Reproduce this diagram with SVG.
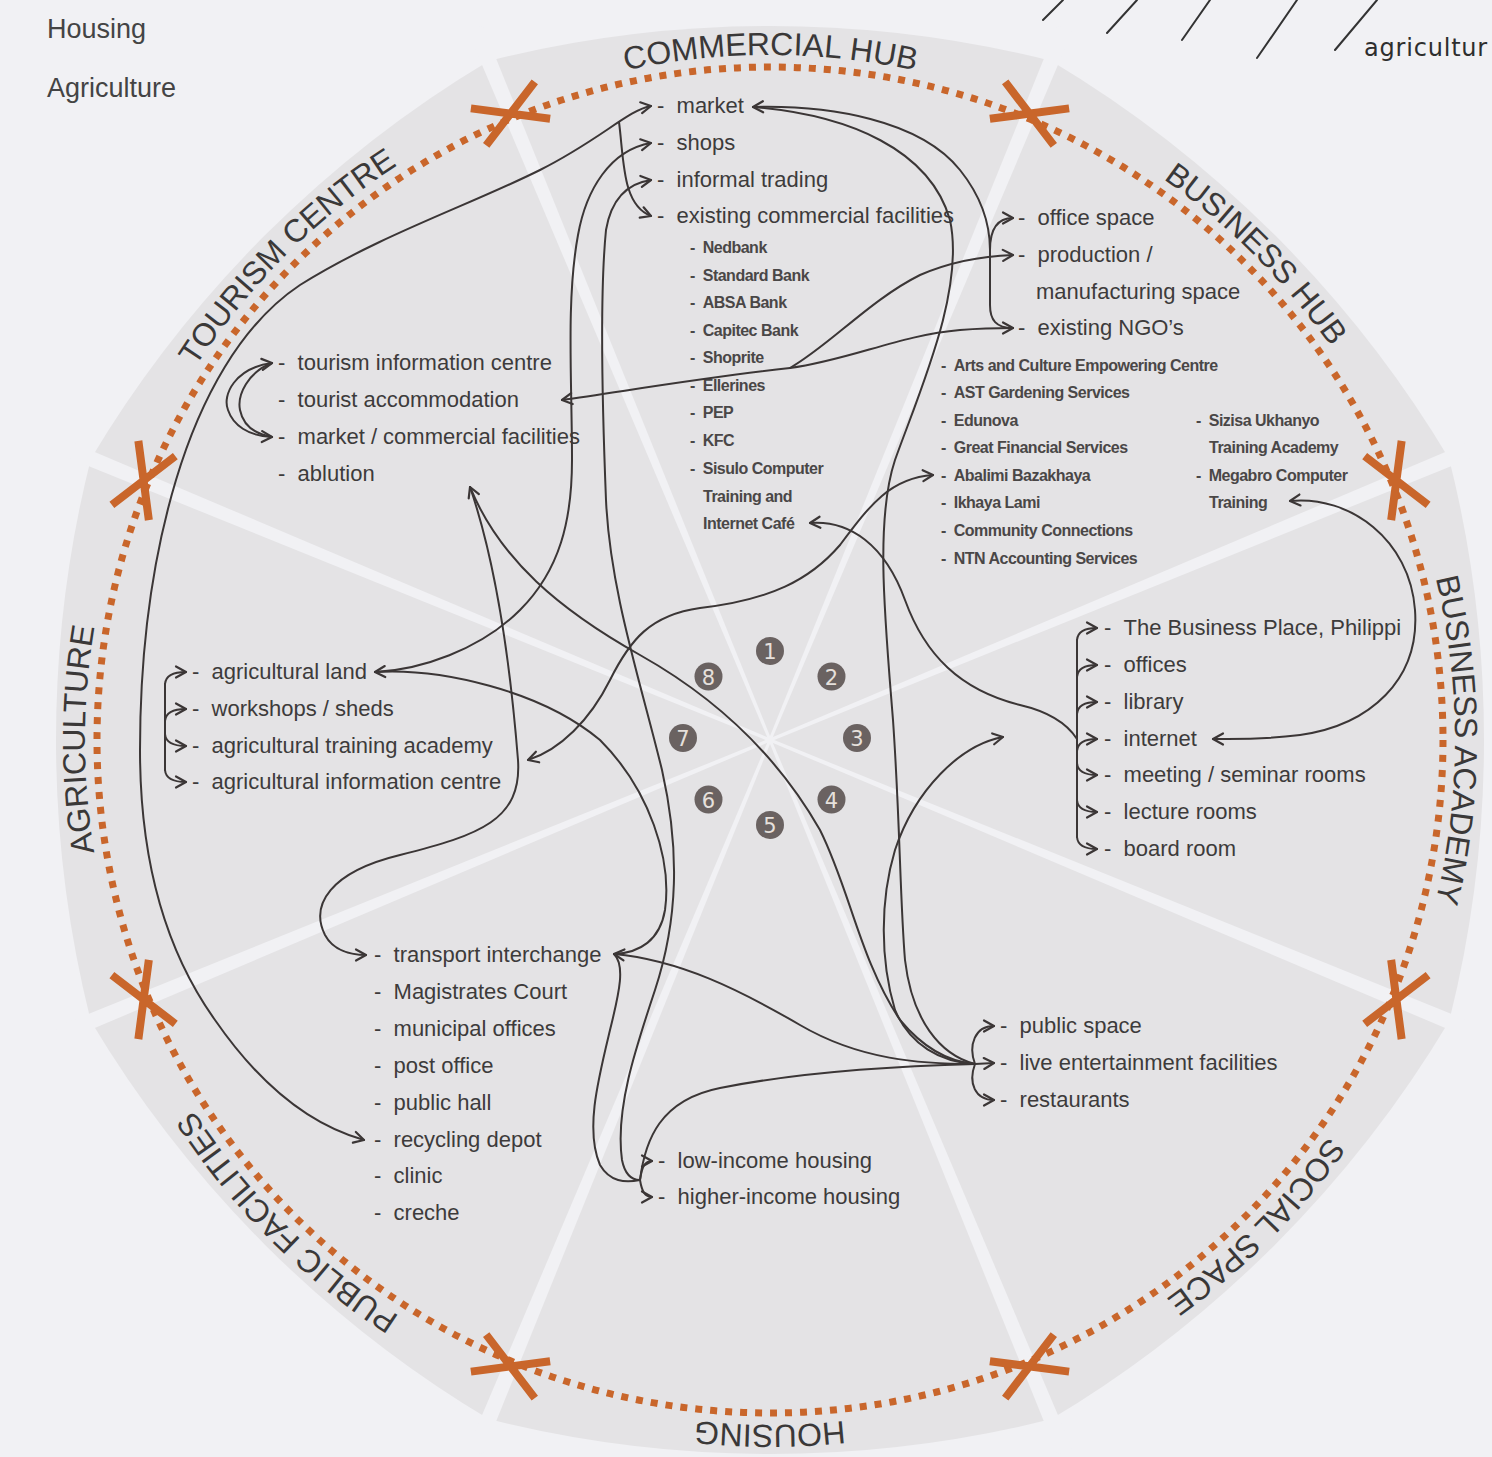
<svg xmlns="http://www.w3.org/2000/svg" xmlns:xlink="http://www.w3.org/1999/xlink" width="1492" height="1457" viewBox="0 0 1492 1457">
<style>
.m{font-family:"Liberation Sans",Arial,sans-serif;font-size:22px;fill:#3d3b3b}
.s{font-family:"Liberation Sans",Arial,sans-serif;font-size:16px;font-weight:bold;letter-spacing:-0.5px;fill:#4a4747}
.ring{font-family:"Liberation Sans",Arial,sans-serif;font-size:32px;fill:#3a3838}
.leg{font-family:"Liberation Sans",Arial,sans-serif;font-size:27px;fill:#444}
.num{font-family:"DejaVu Sans",sans-serif;font-size:21px;fill:#e6e0dc;text-anchor:middle}
.c{fill:none;stroke:#3b3636;stroke-width:2;stroke-linecap:round}
.hand{fill:none;stroke:#333;stroke-width:2;stroke-linecap:round}
</style>
<defs>
<marker id="ah" viewBox="0 0 14 14" refX="12" refY="7" markerWidth="14" markerHeight="14" markerUnits="userSpaceOnUse" orient="auto-start-reverse">
<path d="M2,1.5 L12,7 L2,12.5" fill="none" stroke="#3b3636" stroke-width="2.2" stroke-linecap="round" stroke-linejoin="round"/>
</marker>
<path id="ringText" d="M770,55 A685,685 0 0 1 770,1425 A685,685 0 0 1 770,55 A685,685 0 0 1 770,1425 A685,685 0 0 1 770,55"/>
<path id="xm" d="M-34.6,-20 L34.6,20 M-34.6,20 L34.6,-20" fill="none" stroke="#c9662b" stroke-width="8"/>
<polygon id="gap" points="-1.5,0 1.5,0 8,-770 -8,-770" fill="#f1f1f4"/>
</defs>
<rect width="1492" height="1457" fill="#f1f1f4"/>
<g id="wheel">
<path d="M488.7,60.9 A1151,1151 0 0 1 1051.3,60.9 A1151,1151 0 0 1 1449.1,458.7 A1151,1151 0 0 1 1449.1,1021.3 A1151,1151 0 0 1 1051.3,1419.1 A1151,1151 0 0 1 488.7,1419.1 A1151,1151 0 0 1 90.9,1021.3 A1151,1151 0 0 1 90.9,458.7 A1151,1151 0 0 1 488.7,60.9 Z" fill="#e4e3e5"/>
<use href="#gap" transform="translate(770,740) rotate(22.5)"/>
<use href="#gap" transform="translate(770,740) rotate(67.5)"/>
<use href="#gap" transform="translate(770,740) rotate(112.5)"/>
<use href="#gap" transform="translate(770,740) rotate(157.5)"/>
<use href="#gap" transform="translate(770,740) rotate(202.5)"/>
<use href="#gap" transform="translate(770,740) rotate(247.5)"/>
<use href="#gap" transform="translate(770,740) rotate(292.5)"/>
<use href="#gap" transform="translate(770,740) rotate(337.5)"/>
<circle cx="770" cy="740" r="673" fill="none" stroke="#c9662b" stroke-width="7" stroke-dasharray="7 8"/>
<use href="#xm" transform="translate(1029.5,113.6) rotate(22.5)"/>
<use href="#xm" transform="translate(1396.4,480.5) rotate(67.5)"/>
<use href="#xm" transform="translate(1396.4,999.5) rotate(112.5)"/>
<use href="#xm" transform="translate(1029.5,1366.4) rotate(157.5)"/>
<use href="#xm" transform="translate(510.5,1366.4) rotate(202.5)"/>
<use href="#xm" transform="translate(143.6,999.5) rotate(247.5)"/>
<use href="#xm" transform="translate(143.6,480.5) rotate(292.5)"/>
<use href="#xm" transform="translate(510.5,113.6) rotate(337.5)"/>
</g>
<g id="ring-labels" class="ring" text-anchor="middle">
<text><textPath href="#ringText" startOffset="538">BUSINESS HUB</textPath></text>
<text><textPath href="#ringText" startOffset="1076">BUSINESS ACADEMY</textPath></text>
<text><textPath href="#ringText" startOffset="1614">SOCIAL SPACE</textPath></text>
<text><textPath href="#ringText" startOffset="2152">HOUSING</textPath></text>
<text><textPath href="#ringText" startOffset="2690">PUBLIC FACILITIES</textPath></text>
<text><textPath href="#ringText" startOffset="3228">AGRICULTURE</textPath></text>
<text><textPath href="#ringText" startOffset="3766">TOURISM CENTRE</textPath></text>
<text><textPath href="#ringText" startOffset="4304">COMMERCIAL HUB</textPath></text>
</g>
<g id="legend" class="leg">
<text x="47" y="38">Housing</text>
<text x="47" y="97">Agriculture</text>
</g>
<g id="handwriting">
<path class="hand" d="M1043,20 L1063,0 M1107,33 L1137,0 M1182,40 L1210,0 M1257,58 L1297,0 M1335,50 L1377,0"/>
<text x="1364" y="56" style="font-family:'DejaVu Sans',sans-serif;font-size:24px;letter-spacing:0.8px;fill:#2e2e2e">agricultur</text>
</g>
<g id="numbers">
<g fill="#6a6261">
<circle cx="770" cy="651" r="14"/><circle cx="831.5" cy="676.5" r="14"/><circle cx="857" cy="738" r="14"/><circle cx="831.5" cy="799.5" r="14"/>
<circle cx="770" cy="825" r="14"/><circle cx="708.5" cy="799.5" r="14"/><circle cx="683" cy="738" r="14"/><circle cx="708.5" cy="676.5" r="14"/>
</g>
<text class="num" x="770" y="659">1</text><text class="num" x="831.5" y="684.5">2</text><text class="num" x="857" y="746">3</text><text class="num" x="831.5" y="807.5">4</text>
<text class="num" x="770" y="833">5</text><text class="num" x="708.5" y="807.5">6</text><text class="num" x="683" y="746">7</text><text class="num" x="708.5" y="684.5">8</text>
</g>
<g id="commercial-hub">
<text class="m" x="657" y="113">- &#160;market</text>
<text class="m" x="657" y="150">- &#160;shops</text>
<text class="m" x="657" y="187">- &#160;informal trading</text>
<text class="m" x="657" y="223">- &#160;existing commercial facilities</text>
<text class="s" x="690" y="253">- &#160;Nedbank</text>
<text class="s" x="690" y="281">- &#160;Standard Bank</text>
<text class="s" x="690" y="308">- &#160;ABSA Bank</text>
<text class="s" x="690" y="336">- &#160;Capitec Bank</text>
<text class="s" x="690" y="363">- &#160;Shoprite</text>
<text class="s" x="690" y="391">- &#160;Ellerines</text>
<text class="s" x="690" y="418">- &#160;PEP</text>
<text class="s" x="690" y="446">- &#160;KFC</text>
<text class="s" x="690" y="474">- &#160;Sisulo Computer</text>
<text class="s" x="703" y="502">Training and</text>
<text class="s" x="703" y="529">Internet Café</text>
</g>
<g id="business-hub">
<text class="m" x="1018" y="225">- &#160;office space</text>
<text class="m" x="1018" y="262">- &#160;production /</text>
<text class="m" x="1036" y="299">manufacturing space</text>
<text class="m" x="1018" y="335">- &#160;existing NGO’s</text>
<text class="s" x="941" y="371">- &#160;Arts and Culture Empowering Centre</text>
<text class="s" x="941" y="398">- &#160;AST Gardening Services</text>
<text class="s" x="941" y="426">- &#160;Edunova</text>
<text class="s" x="941" y="453">- &#160;Great Financial Services</text>
<text class="s" x="941" y="481">- &#160;Abalimi Bazakhaya</text>
<text class="s" x="941" y="508">- &#160;Ikhaya Lami</text>
<text class="s" x="941" y="536">- &#160;Community Connections</text>
<text class="s" x="941" y="564">- &#160;NTN Accounting Services</text>
<text class="s" x="1196" y="426">- &#160;Sizisa Ukhanyo</text>
<text class="s" x="1209" y="453">Training Academy</text>
<text class="s" x="1196" y="481">- &#160;Megabro Computer</text>
<text class="s" x="1209" y="508">Training</text>
</g>
<g id="tourism-centre">
<text class="m" x="278" y="370">- &#160;tourism information centre</text>
<text class="m" x="278" y="407">- &#160;tourist accommodation</text>
<text class="m" x="278" y="444">- &#160;market / commercial facilities</text>
<text class="m" x="278" y="481">- &#160;ablution</text>
</g>
<g id="agriculture">
<text class="m" x="192" y="679">- &#160;agricultural land</text>
<text class="m" x="192" y="716">- &#160;workshops / sheds</text>
<text class="m" x="192" y="753">- &#160;agricultural training academy</text>
<text class="m" x="192" y="789">- &#160;agricultural information centre</text>
</g>
<g id="business-academy">
<text class="m" x="1104" y="635">- &#160;The Business Place, Philippi</text>
<text class="m" x="1104" y="672">- &#160;offices</text>
<text class="m" x="1104" y="709">- &#160;library</text>
<text class="m" x="1104" y="746">- &#160;internet</text>
<text class="m" x="1104" y="782">- &#160;meeting / seminar rooms</text>
<text class="m" x="1104" y="819">- &#160;lecture rooms</text>
<text class="m" x="1104" y="856">- &#160;board room</text>
</g>
<g id="public-facilities">
<text class="m" x="374" y="962">- &#160;transport interchange</text>
<text class="m" x="374" y="999">- &#160;Magistrates Court</text>
<text class="m" x="374" y="1036">- &#160;municipal offices</text>
<text class="m" x="374" y="1073">- &#160;post office</text>
<text class="m" x="374" y="1110">- &#160;public hall</text>
<text class="m" x="374" y="1147">- &#160;recycling depot</text>
<text class="m" x="374" y="1183">- &#160;clinic</text>
<text class="m" x="374" y="1220">- &#160;creche</text>
</g>
<g id="social-space">
<text class="m" x="1000" y="1033">- &#160;public space</text>
<text class="m" x="1000" y="1070">- &#160;live entertainment facilities</text>
<text class="m" x="1000" y="1107">- &#160;restaurants</text>
</g>
<g id="housing">
<text class="m" x="658" y="1168">- &#160;low-income housing</text>
<text class="m" x="658" y="1204">- &#160;higher-income housing</text>
</g>
<g id="connectors">
<path class="c" marker-start="url(#ah)" marker-end="url(#ah)" d="M651,106 C628,110 600,140 540,170 C470,205 380,235 300,285 C240,325 200,400 176,480 C152,560 140,650 140,750 C140,860 165,950 215,1020 C260,1085 310,1125 364,1140"/>
<path class="c" marker-end="url(#ah)" d="M619,122 C624,160 622,205 651,216"/>
<path class="c" marker-start="url(#ah)" marker-end="url(#ah)" d="M375,672 C420,670 480,650 520,610 C560,570 572,520 572,460 C572,380 566,300 578,235 C586,190 610,150 651,143"/>
<path class="c" marker-start="url(#ah)" d="M651,180 C630,183 612,195 606,230 C600,290 602,400 606,500 C610,590 640,680 662,770 C680,850 678,920 655,990 C635,1050 615,1110 622,1160 C625,1175 632,1180 640,1180"/>
<path class="c" d="M375,672 C440,668 540,690 600,740 C650,790 672,860 665,910 C660,940 640,953 614,954"/>
<path class="c" d="M614,954 C625,965 620,990 610,1030 C598,1080 585,1130 600,1165 C610,1182 625,1183 640,1180"/>
<path class="c" d="M640,1180 C645,1140 660,1100 720,1088 C800,1072 900,1066 975,1064"/>
<path class="c" marker-start="url(#ah)" d="M614,954 C680,960 740,990 800,1025 C860,1060 920,1064 975,1064"/>
<path class="c" marker-start="url(#ah)" d="M470,487 C500,560 560,610 640,655 C720,700 780,760 820,830 C850,890 860,960 900,1020 C925,1050 950,1062 975,1064"/>
<path class="c" marker-end="url(#ah)" d="M470,487 C495,560 510,660 518,760 C522,820 480,835 400,855 C330,872 310,905 325,935 C333,950 350,955 366,955"/>
<path class="c" marker-start="url(#ah)" marker-end="url(#ah)" d="M528,760 C560,750 590,720 610,680 C630,640 650,615 700,608 C770,600 810,580 840,545 C870,505 890,478 933,475"/>
<path class="c" marker-start="url(#ah)" d="M562,400 C620,392 700,378 790,368 C850,360 900,335 960,330 C985,328 1000,328 1013,328"/>
<path class="c" marker-end="url(#ah)" d="M790,368 C830,345 870,300 920,275 C950,262 985,256 1013,255"/>
<path class="c" marker-start="url(#ah)" marker-end="url(#ah)" d="M1013,218 C995,218 990,232 990,250 L990,305 C990,320 996,328 1013,328"/>
<path class="c" marker-start="url(#ah)" d="M753,107 C830,105 920,120 960,170 C980,195 990,220 990,250"/>
<path class="c" d="M753,107 C850,115 930,150 950,220 C965,290 920,390 895,460 C875,520 885,620 893,720 C900,820 900,900 905,960 C912,1020 940,1055 975,1064"/>
<path class="c" marker-start="url(#ah)" d="M810,523 C850,520 885,545 905,600 C925,655 960,690 1020,705 C1050,712 1068,725 1077,739"/>
<path class="c" marker-start="url(#ah)" d="M1003,737 C960,745 915,790 895,850 C880,900 880,960 895,1010 C910,1045 940,1062 975,1064"/>
<path class="c" marker-start="url(#ah)" marker-end="url(#ah)" d="M1290,501 C1350,495 1410,540 1415,610 C1420,680 1370,725 1300,735 C1260,740 1235,739 1213,739"/>
<path class="c" marker-start="url(#ah)" marker-end="url(#ah)" d="M272,363 C235,368 222,395 228,410 C233,425 248,436 272,437"/>
<path class="c" d="M272,363 C248,372 237,395 240,410 C243,425 255,434 272,437"/>
<path class="c" d="M165,684 L165,770"/>
<path class="c" marker-end="url(#ah)" d="M165,684 Q166,672 186,672"/>
<path class="c" marker-end="url(#ah)" d="M165,721 Q166,709 186,709"/>
<path class="c" marker-end="url(#ah)" d="M165,734 Q166,746 186,746"/>
<path class="c" marker-end="url(#ah)" d="M165,770 Q166,782 186,782"/>
<path class="c" d="M1077,640 L1077,837"/>
<path class="c" marker-end="url(#ah)" d="M1077,640 Q1078,628 1097,628"/>
<path class="c" marker-end="url(#ah)" d="M1077,677 Q1078,665 1097,665"/>
<path class="c" marker-end="url(#ah)" d="M1077,714 Q1078,702 1097,702"/>
<path class="c" marker-end="url(#ah)" d="M1077,751 Q1078,739 1097,739"/>
<path class="c" marker-end="url(#ah)" d="M1077,763 Q1078,775 1097,775"/>
<path class="c" marker-end="url(#ah)" d="M1077,800 Q1078,812 1097,812"/>
<path class="c" marker-end="url(#ah)" d="M1077,837 Q1078,849 1097,849"/>
<path class="c" marker-end="url(#ah)" d="M975,1064 C968,1045 975,1026 994,1026"/>
<path class="c" marker-end="url(#ah)" d="M975,1064 L994,1063"/>
<path class="c" marker-end="url(#ah)" d="M975,1064 C968,1083 975,1100 994,1100"/>
<path class="c" marker-end="url(#ah)" d="M640,1180 C642,1166 645,1161 652,1161"/>
<path class="c" marker-end="url(#ah)" d="M640,1180 C642,1192 645,1197 652,1197"/>
</g>
</svg>
